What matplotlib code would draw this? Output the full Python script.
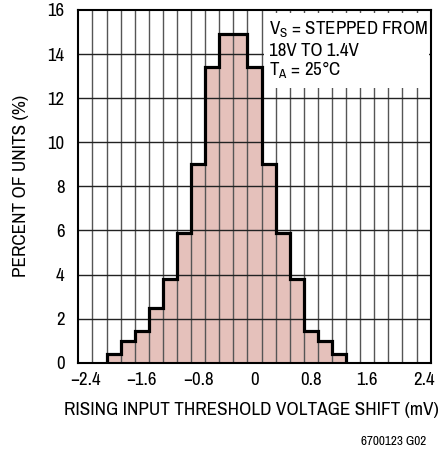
import matplotlib
matplotlib.use("Agg")
import matplotlib.pyplot as plt
from matplotlib.patches import Rectangle

plt.rcParams['font.family'] = ['Archivo Narrow', 'DejaVu Sans']
plt.rcParams['mathtext.fontset'] = 'custom'
plt.rcParams['mathtext.rm'] = 'Archivo Narrow'

# Data
bin_edges = [-2.1, -1.9, -1.7, -1.5, -1.3, -1.1, -0.9, -0.7, -0.5, -0.3,
             -0.1, 0.1, 0.3, 0.5, 0.7, 0.9, 1.1, 1.3]
percent = [0.4, 1.0, 1.45, 2.5, 3.8, 5.9, 9.0, 13.4, 14.9, 14.9,
           13.4, 9.0, 5.9, 3.8, 1.45, 1.0, 0.4]
x_ticks = [-2.4, -1.6, -0.8, 0, 0.8, 1.6, 2.4]
x_tick_labels = ['\u22122.4', '\u22121.6', '\u22120.8', '0', '0.8', '1.6', '2.4']
y_ticks = [0, 2, 4, 6, 8, 10, 12, 14, 16]
v_grid = [-2.3, -2.1, -1.9, -1.7, -1.5, -1.3, -1.1, -0.9, -0.7, -0.5, -0.3, -0.1,
          0.1, 0.3, 0.5, 0.7, 0.9, 1.1, 1.3, 1.5, 1.7, 1.9, 2.1, 2.3]
h_grid = [2, 4, 6, 8, 10, 12, 14]

fig = plt.figure(figsize=(4.39, 4.5), dpi=100)
ax = fig.add_axes([0.1784, 0.194, 0.8026, 0.784])
ax.set_xlim(-2.5, 2.5)
ax.set_ylim(0, 16)

widths = [bin_edges[i + 1] - bin_edges[i] for i in range(len(percent))]
ax.bar(bin_edges[:-1], percent, width=widths, align='edge',
       color='#e5c1bb', edgecolor='none', zorder=1)

for gx in v_grid:
    ax.axvline(gx, color='#555555', lw=1.0, zorder=2)
for gy in h_grid:
    ax.axhline(gy, color='#222222', lw=1.0, zorder=2)

ax.stairs(percent, bin_edges, baseline=0, color='black', lw=2.3, zorder=4)

ax.add_patch(Rectangle((0.13, 12.45), 2.35, 3.42, facecolor='white',
                       edgecolor='none', zorder=3))
fs_box = 13.6
ax.text(0.205, 14.87, r'V$_\mathregular{S}$ = STEPPED FROM', fontsize=fs_box,
        va='baseline', ha='left', zorder=5)
ax.text(0.205, 13.93, '18V TO 1.4V', fontsize=fs_box, va='baseline', ha='left', zorder=5)
ax.text(0.205, 13.0, 'T$_\\mathregular{A}$ = 25\u00b0C', fontsize=fs_box,
        va='baseline', ha='left', zorder=5)

ax.set_xticks(x_ticks)
ax.set_xticklabels(x_tick_labels)
ax.set_yticks(y_ticks)
ax.tick_params(length=0, labelsize=13.5)
ax.tick_params(axis='x', pad=7)
ax.tick_params(axis='y', pad=10)
for s in ax.spines.values():
    s.set_linewidth(1.5)
    s.set_zorder(6)

fs_lab = 13.8
fig.text(0.5718, 1 - 415 / 450, 'RISING INPUT THRESHOLD VOLTAGE SHIFT (mV)',
         fontsize=fs_lab, ha='center', va='baseline')
fig.text(21 / 439, 1 - 186 / 450, 'PERCENT OF UNITS (%)', fontsize=fs_lab,
         rotation=90, ha='center', va='center')

fig.text(426.7 / 439, 1 - 445 / 450, '6700123 G02', fontsize=9.5,
         ha='right', va='baseline')

fig.savefig('out.png', dpi=100)
